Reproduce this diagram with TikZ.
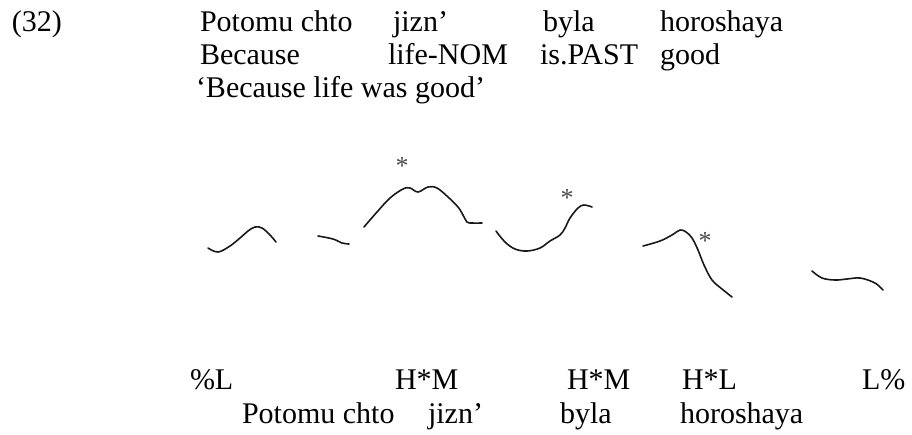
\documentclass[tikz,border=0pt]{standalone}
\usepackage{fontspec}
\setmainfont{Liberation Serif}
\begin{document}
\begin{tikzpicture}[x=1pt,y=-1pt,
  txt/.style={anchor=base west, inner sep=0pt, outer sep=0pt, font=\fontsize{30}{34}\selectfont},
  starmark/.style={anchor=base, inner sep=0pt, outer sep=0pt, text=black!70, font=\fontsize{26}{30}\selectfont},
  pitch/.style={line width=1.6pt, black!90, line cap=round, line join=round}]
\useasboundingbox (0,0) rectangle (912,434);
% header
\node[txt] (num) at (12,31) {(32)};
\node[txt] (w1) at (200,31) {Potomu chto};
\node[txt] (w2) at (393,31) {jizn’};
\node[txt] (w3) at (543,31) {byla};
\node[txt] (w4) at (660,31) {horoshaya};
\node[txt] (g1) at (200,64) {Because};
\node[txt] (g2) at (388,64) {life-NOM};
\node[txt] (g3) at (540,64) {is.PAST};
\node[txt] (g4) at (660,64) {good};
\node[txt] (tr) at (196,97) {‘Because life was good’};
% pitch contour
\draw[pitch] plot[smooth, tension=0.6] coordinates {(208,248) (218,252) (230,246) (240,238) (248,231) (255,227) (262,228) (270,235) (276,242)};
\draw[pitch] plot[smooth, tension=0.6] coordinates {(318,236) (333,239) (342,243) (349,244)};
\draw[pitch] plot[smooth, tension=0.6] coordinates {(364,227) (377,212) (390,198) (403,189) (410,188) (418,192) (428,187) (437,188) (448,197) (458,207) (463,215) (467,222) (472,223) (482,223)};
\draw[pitch] plot[smooth, tension=0.6] coordinates {(496,231) (505,242) (515,249) (527,251) (540,248) (550,241) (560,235) (565,228) (570,218) (578,208) (584,205) (592,207)};
\draw[pitch] plot[smooth, tension=0.6] coordinates {(643,246) (660,241) (672,235) (680,230) (686,232) (692,238) (698,250) (704,265) (712,280) (722,289) (732,297)};
\draw[pitch] plot[smooth, tension=0.6] coordinates {(812,271) (822,278) (835,280) (847,279) (860,278) (873,282) (879,286) (883,290)};
\node[starmark] (s1) at (402,174) {*};
\node[starmark] (s2) at (567,206) {*};
\node[starmark] (s3) at (705,249) {*};
% tones
\node[txt] (t1) at (190,389) {\%L};
\node[txt] (t2) at (395,389) {H*M};
\node[txt] (t3) at (567,389) {H*M};
\node[txt] (t4) at (682,389) {H*L};
\node[txt] (t5) at (862,389) {L\%};
% words
\node[txt] (b1) at (242,423) {Potomu chto};
\node[txt] (b2) at (428,423) {jizn’};
\node[txt] (b3) at (560,423) {byla};
\node[txt] (b4) at (680,423) {horoshaya};
\end{tikzpicture}
\end{document}
